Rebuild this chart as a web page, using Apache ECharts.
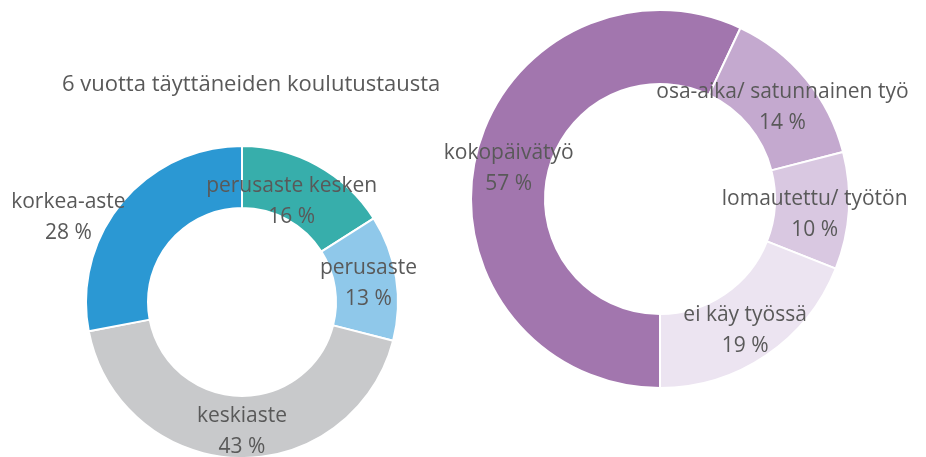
<!DOCTYPE html>
<html>
<head>
<meta charset="utf-8">
<script src="https://cdn.jsdelivr.net/npm/echarts@6/dist/echarts.min.js"></script>
<style>
html,body{margin:0;padding:0;background:#fff;}
#chart{width:926px;height:457px;}
</style>
</head>
<body>
<div id="chart"></div>
<script>
// Left donut: education background
var eduCategories = ['perusaste kesken', 'perusaste', 'keskiaste', 'korkea-aste'];
var eduValues = [16, 13, 43, 28];
var eduColors = ['#37AEAB', '#8FC8EA', '#C8C9CB', '#2B98D3'];
var eduLabelShift = [[-12, 12], [0, 2], [4, 2], [-75, -3]];

// Right donut: employment
var workCategories = ['kokopäivätyö', 'osa-aika/ satunnainen työ', 'lomautettu/ työtön', 'ei käy työssä'];
var workValues = [57, 14, 10, 19];
var workColors = ['#A276AE', '#C4A9CF', '#D9C8E1', '#ECE4F1'];
var workLabelShift = [[0, 3], [3, 7], [0, 6], [-2, 3]];

var titleText = '6 vuotta täyttäneiden koulutustausta';

var FONT = '"Open Sans", sans-serif';
var TXT = '#595959';

function buildData(cats, vals, cols, shifts) {
  return cats.map(function (c, i) {
    return {
      name: c,
      value: vals[i],
      itemStyle: { color: cols[i] },
      label: { offset: shifts[i] }
    };
  });
}

var labelCfg = {
  show: true,
  position: 'inside',
  formatter: function (p) { return p.name + '\n' + p.value + ' %'; },
  color: TXT,
  fontFamily: FONT,
  fontSize: 21,
  lineHeight: 31,
  align: 'center'
};

var chart = echarts.init(document.getElementById('chart'), null, { renderer: 'canvas' });
chart.setOption({
  animation: false,
  title: {
    text: titleText,
    left: 57,
    top: 69,
    textStyle: { color: TXT, fontFamily: FONT, fontSize: 22, fontWeight: 'normal' }
  },
  series: [
    {
      type: 'pie',
      center: [242, 302],
      radius: [94, 156],
      startAngle: 90,
      clockwise: true,
      avoidLabelOverlap: false,
      label: labelCfg,
      labelLine: { show: false },
      itemStyle: { borderColor: '#fff', borderWidth: 2 },
      emphasis: { disabled: true },
      data: buildData(eduCategories, eduValues, eduColors, eduLabelShift)
    },
    {
      type: 'pie',
      center: [660, 199],
      radius: [115, 189],
      startAngle: -90,
      clockwise: true,
      avoidLabelOverlap: false,
      label: labelCfg,
      labelLine: { show: false },
      itemStyle: { borderColor: '#fff', borderWidth: 2 },
      emphasis: { disabled: true },
      data: buildData(workCategories, workValues, workColors, workLabelShift)
    }
  ]
});
</script>
</body>
</html>
